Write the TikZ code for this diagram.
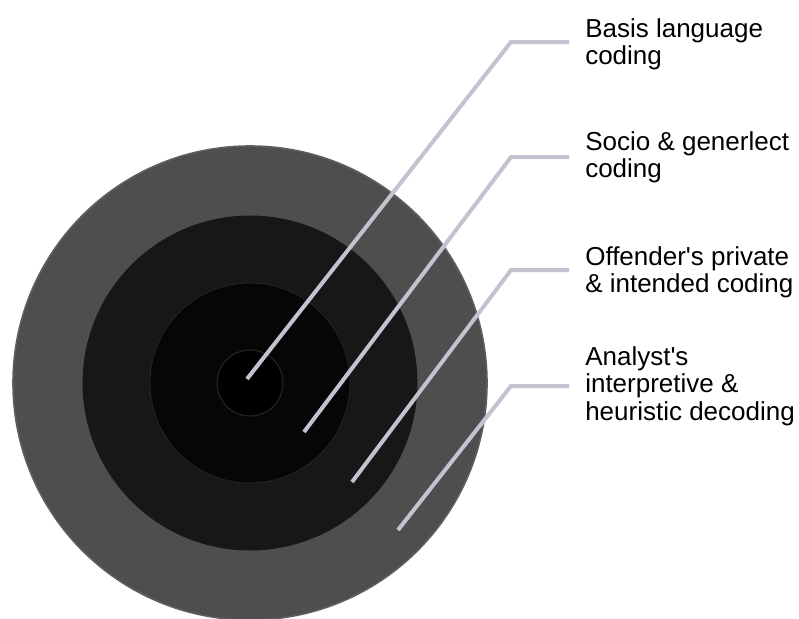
\documentclass[tikz,border=0pt]{standalone}
\usepackage{fontspec}
\setmainfont{Liberation Sans}
\usepackage{xcolor}
\usetikzlibrary{positioning}

\definecolor{ringout}{HTML}{4E4E4E}
\definecolor{ringoutrim}{HTML}{5E5E5E}
\definecolor{ringmid}{HTML}{171717}
\definecolor{ringin}{HTML}{060606}
\definecolor{ringrim}{HTML}{262626}
\definecolor{leadcol}{HTML}{C3C2CF}

\tikzset{
    leader/.style={draw=leadcol, line width=3pt, line join=miter, shorten >=12pt},
    layer/.style={align=left, inner sep=0pt, font=\fontsize{19.5}{20.5}\selectfont}
}

\begin{document}
\begin{tikzpicture}[x=0.75pt, y=-0.75pt, node distance=55.5pt]
    \useasboundingbox (0,0) rectangle (799,618);

    % rings
    \coordinate (ctr) at (250,383);
    \fill[ringout, draw=ringoutrim, line width=1.2pt] (ctr) circle (177.75pt);
    \fill[ringmid] (ctr) circle (125.6pt);
    \fill[ringin, draw=ringrim, line width=0.6pt] (ctr) circle (75pt);
    \fill[black, draw=ringrim, line width=0.8pt] (ctr) circle (24.75pt);

    % leader points and bends
    \coordinate (tip1) at (247,379);
    \coordinate (tip2) at (304,432);
    \coordinate (tip3) at (352,482);
    \coordinate (tip4) at (398,530);
    \coordinate (bend1) at (511,42);
    \coordinate (bend2) at (511,157);
    \coordinate (bend3) at (511,270);
    \coordinate (bend4) at (511,386);

    % labels
    \node[layer, right=of bend1, anchor=west, yshift=-1.5pt] (basis) {Basis language\\coding};
    \node[layer, right=of bend2, anchor=west] (socio) {Socio \& generlect\\coding};
    \node[layer, right=of bend3, anchor=west, yshift=-1.5pt] (offender) {Offender\textquotesingle s private\\\& intended coding};
    \node[layer, right=of bend4, anchor=west] (analyst) {Analyst\textquotesingle s\\interpretive \&\\heuristic decoding};

    \draw[leader] (tip1) -- (bend1) -- (bend1 -| basis.west);
    \draw[leader] (tip2) -- (bend2) -- (bend2 -| socio.west);
    \draw[leader] (tip3) -- (bend3) -- (bend3 -| offender.west);
    \draw[leader] (tip4) -- (bend4) -- (bend4 -| analyst.west);
\end{tikzpicture}
\end{document}
